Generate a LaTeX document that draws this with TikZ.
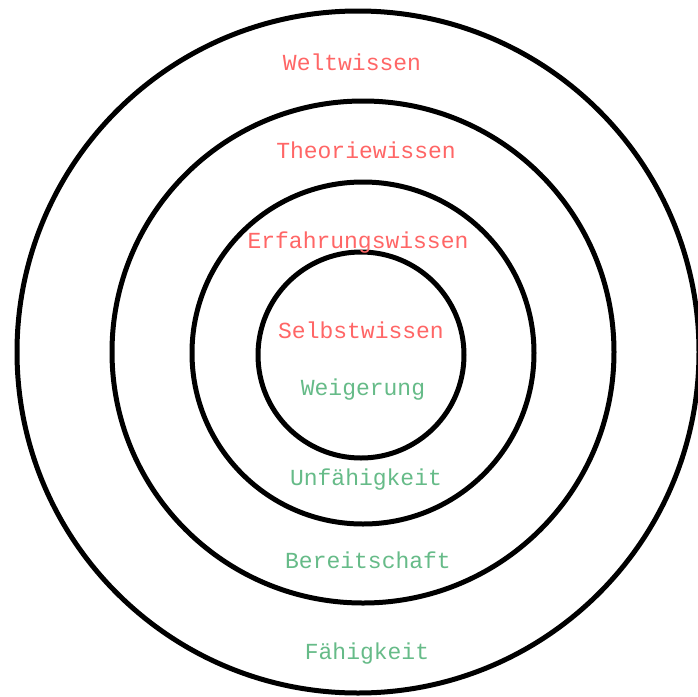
\documentclass[tikz,border=0pt]{standalone}
\usepackage{fontspec}
\setmonofont{Liberation Mono}
\usetikzlibrary{positioning}
\definecolor{wissenred}{RGB}{255,102,102}
\definecolor{haltgreen}{RGB}{102,187,136}
\tikzset{
ring/.style={
       circle,
       draw=black,
       line width=5pt,
       inner sep=0pt,
       minimum size=#1,
       },
wissen/.style={
       font=\ttfamily\fontsize{23}{23}\selectfont,
       text=wissenred,
       },
haltung/.style={
       font=\ttfamily\fontsize{23}{23}\selectfont,
       text=haltgreen,
       },
}
\begin{document}
\begin{tikzpicture}[x=1pt,y=-1pt]
    \useasboundingbox[fill=white] (0,0) rectangle (697,697);
    % Kreise von aussen nach innen
    \node [ring=682pt] (welt) at (358,352) {};
    \node [ring=502pt] (theorie) at (363,352) {};
    \node [ring=342pt] (erfahrung) at (363,353) {};
    \node [ring=206pt] (selbst) at (361,355) {};

    % Beschriftungen
    \foreach \n/\x/\y/\l in {
        weltlab/352/62/Weltwissen,
        theorielab/366/150/Theoriewissen,
        erfahrunglab/358/243/Erfahrungswissen,
        selbstlab/361/330/Selbstwissen
    } {
        \node [wissen] (\n) at (\x,\y) {\l};
    }
    \foreach \n/\x/\y/\l in {
        weigerunglab/363/390/Weigerung,
        unflab/366/480/Unfähigkeit,
        bereitlab/368/560/Bereitschaft,
        faehiglab/367/654/Fähigkeit
    } {
        \node [haltung] (\n) at (\x,\y) {\l};
    }
\end{tikzpicture}
\end{document}
